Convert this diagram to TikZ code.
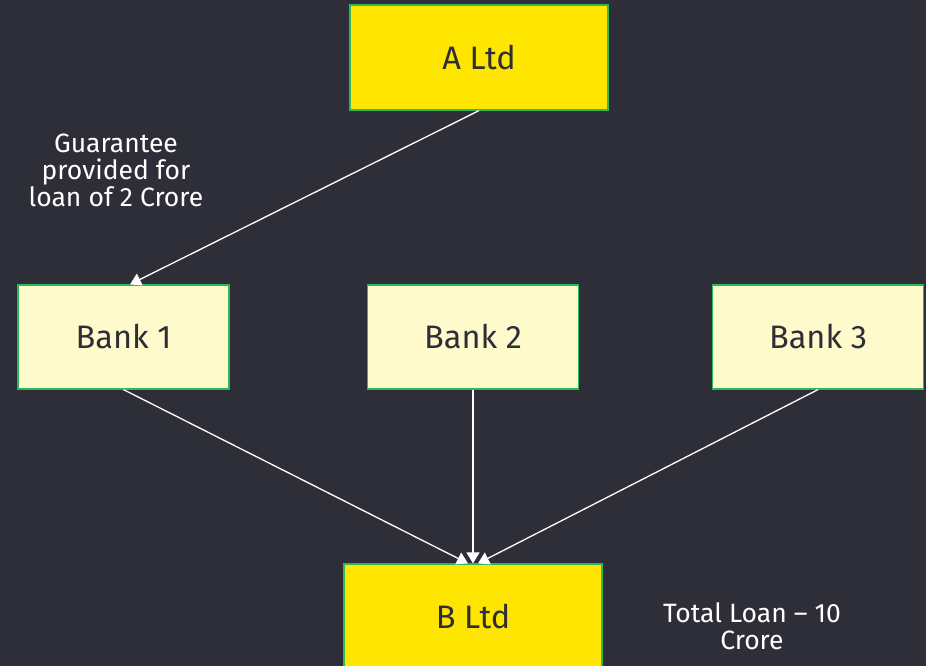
\documentclass[tikz,border=0pt]{standalone}
\usepackage{fontspec}
\setmainfont{Fira Sans}
\usetikzlibrary{arrows.meta,calc}
\definecolor{bgc}{HTML}{2E2E38}
\definecolor{eyyellow}{HTML}{FFE600}
\definecolor{lightyellow}{HTML}{FFFACC}
\definecolor{edgegreen}{HTML}{2DB757}
\begin{document}
\begin{tikzpicture}[x=1pt,y=-1pt,
  bigbox/.style={draw=edgegreen,line width=1.2pt,fill=eyyellow,minimum width=258pt,minimum height=105pt,inner sep=0pt,text=bgc,font=\fontsize{32.5}{36}\selectfont},
  bankbox/.style={draw=edgegreen,line width=1.2pt,fill=lightyellow,minimum width=211pt,minimum height=104pt,inner sep=0pt,text=bgc,font=\fontsize{32.5}{36}\selectfont},
  note/.style={text=white,align=center,font=\fontsize{26.5}{27}\selectfont},
  conn/.style={draw=white,line width=1.3pt,-{Triangle[width=13pt,length=11pt,fill=white]}}]
\useasboundingbox (0,0) rectangle (926,666);
\fill[bgc] (0,0) rectangle (926,666);
\clip (0,0) rectangle (926,666);
\node[bigbox] (a) at (479,57.5) {A Ltd};
\node[bankbox] (b1) at (123.5,337) {Bank 1};
\node[bankbox] (b2) at (473,337) {Bank 2};
\node[bankbox] (b3) at (818,337) {Bank 3};
\node[bigbox] (b) at (473,616.5) {B Ltd};
\node[note] (g) at (116,170) {Guarantee\\provided for\\loan of 2 Crore};
\node[note] (t) at (752,626) {Total Loan – 10\\Crore};
\coordinate (b1in) at ($(b1.north)+(6.5,0)$);
\coordinate (bl) at ($(b.north)+(-5,0)$);
\coordinate (br) at ($(b.north)+(5,0)$);
\draw[conn] (a.south) -- (b1in);
\draw[conn] (b1.south) -- (bl);
\draw[conn] (b2.south) -- (b.north);
\draw[conn] (b3.south) -- (br);
\end{tikzpicture}
\end{document}
